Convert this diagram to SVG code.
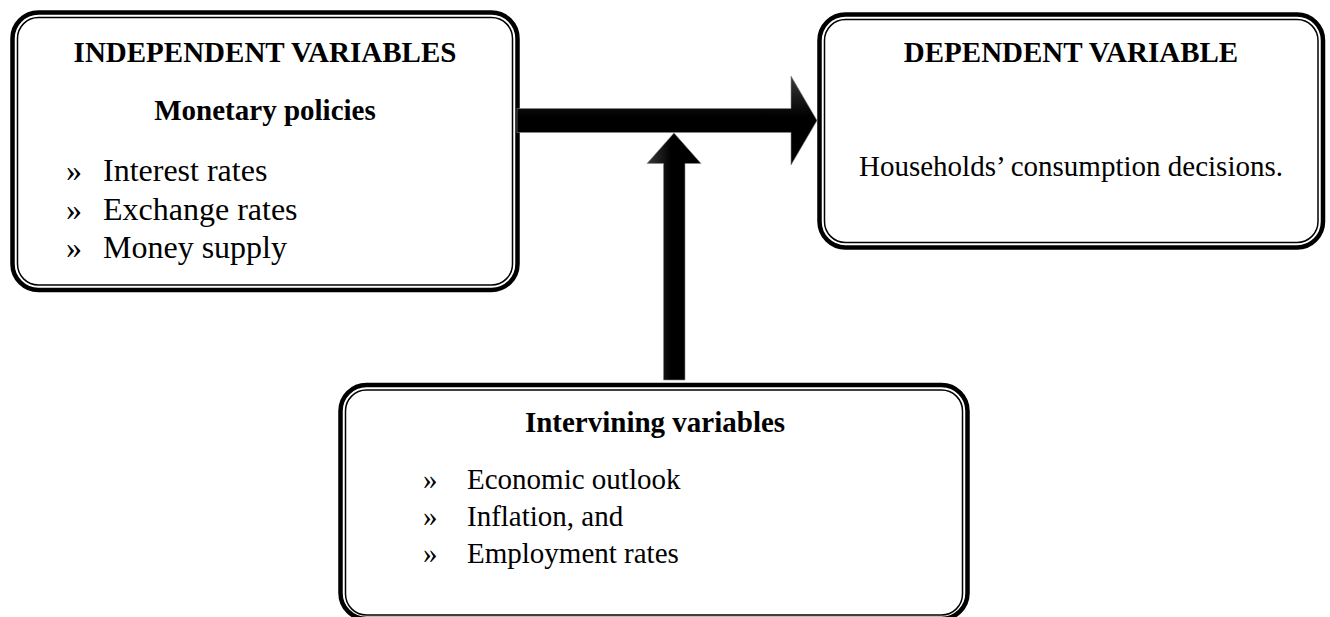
<svg xmlns="http://www.w3.org/2000/svg" width="1330" height="617" viewBox="0 0 1330 617">
<defs>
<linearGradient id="gv" x1="0" y1="0" x2="0" y2="1">
<stop offset="0" stop-color="#3a3a3a"/><stop offset="0.45" stop-color="#000"/><stop offset="1" stop-color="#000"/>
</linearGradient>
<linearGradient id="gh" x1="0" y1="0" x2="1" y2="0">
<stop offset="0" stop-color="#3a3a3a"/><stop offset="0.45" stop-color="#000"/><stop offset="1" stop-color="#000"/>
</linearGradient>
</defs>
<style>
.outer{fill:#fff;stroke:#000;stroke-width:4.5}
.inner{fill:none;stroke:#000;stroke-width:1.5}
.t{font-family:"Liberation Serif","Times New Roman",serif;fill:#000}
.b{font-weight:bold;font-size:29px}
.r{font-size:29px}
.r32{font-size:32px}
.arrow{stroke:#888;stroke-width:0.6}
</style>
<rect width="1330" height="617" fill="#fff"/>
<g id="independent">
<rect class="outer" x="12.5" y="12.5" width="505" height="277.5" rx="26"/>
<rect class="inner" x="17.5" y="17.5" width="495" height="267.5" rx="21"/>
<text class="t b" x="265" y="62" text-anchor="middle">INDEPENDENT VARIABLES</text>
<text class="t b" x="265" y="120" text-anchor="middle">Monetary policies</text>
<text class="t r32" x="66" y="181">»</text>
<text class="t r32" x="103" y="181">Interest rates</text>
<text class="t r32" x="66" y="220">»</text>
<text class="t r32" x="103" y="220">Exchange rates</text>
<text class="t r32" x="66" y="258">»</text>
<text class="t r32" x="103" y="258">Money supply</text>
</g>
<g id="dependent">
<rect class="outer" x="819.5" y="14.5" width="503.5" height="233" rx="26"/>
<rect class="inner" x="824.5" y="19.5" width="493.5" height="223" rx="21"/>
<text class="t b" x="1071" y="62" text-anchor="middle">DEPENDENT VARIABLE</text>
<text class="t r" x="1071" y="176" text-anchor="middle">Households’ consumption decisions.</text>
</g>
<g id="intervening">
<rect class="outer" x="340.5" y="385" width="627" height="234" rx="26"/>
<rect class="inner" x="345.5" y="390" width="617" height="225" rx="21"/>
<text class="t b" x="655" y="432" text-anchor="middle">Intervining variables</text>
<text class="t r" x="423" y="489">»</text>
<text class="t r" x="467" y="489">Economic outlook</text>
<text class="t r" x="423" y="526">»</text>
<text class="t r" x="467" y="526">Inflation, and</text>
<text class="t r" x="423" y="563">»</text>
<text class="t r" x="467" y="563">Employment rates</text>
</g>
<g id="connectors">
<polygon class="arrow" fill="url(#gv)" points="517,108.5 791,108.5 791,76 817,120.5 791,165 791,132.5 517,132.5"/>
<polygon class="arrow" fill="url(#gh)" points="663.5,380 663.5,163.5 647,163.5 674,133 701,163.5 685,163.5 685,380"/>
</g>
</svg>
